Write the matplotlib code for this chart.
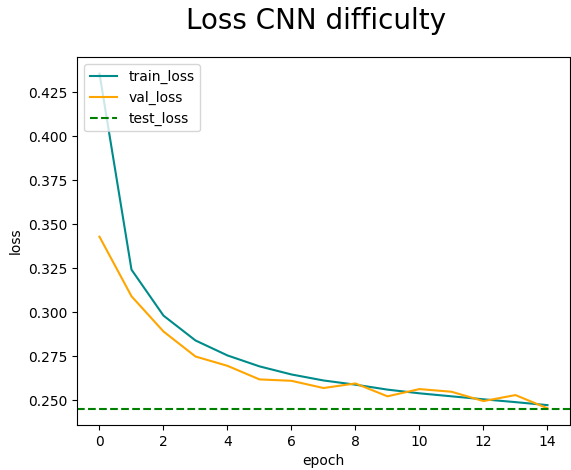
import matplotlib
matplotlib.use("Agg")
import matplotlib.pyplot as plt

# per-epoch losses
epochs = list(range(15))
train_loss = [0.4354, 0.3242, 0.2981, 0.2840, 0.2755, 0.2693, 0.2647, 0.2613,
              0.2589, 0.2561, 0.2540, 0.2523, 0.2506, 0.2490, 0.2473]
val_loss = [0.3429, 0.3091, 0.2891, 0.2749, 0.2696, 0.2619, 0.2611, 0.2570,
            0.2596, 0.2523, 0.2564, 0.2549, 0.2496, 0.2530, 0.2455]
test_loss = 0.2451

fig = plt.figure(figsize=(5.71, 4.70), dpi=100)
ax = fig.add_axes([0.135, 0.0957, 0.863, 0.7830])

ax.plot(epochs, train_loss, color='darkcyan', label='train_loss')
ax.plot(epochs, val_loss, color='orange', label='val_loss')
ax.axhline(test_loss, color='green', linestyle='--', label='test_loss')

ax.set_xlabel('epoch')
ax.set_ylabel('loss')
ax.legend(loc='upper left')
fig.suptitle('Loss CNN difficulty', fontsize=20, x=0.554, y=0.985)

fig.savefig('out.png', dpi=100)
